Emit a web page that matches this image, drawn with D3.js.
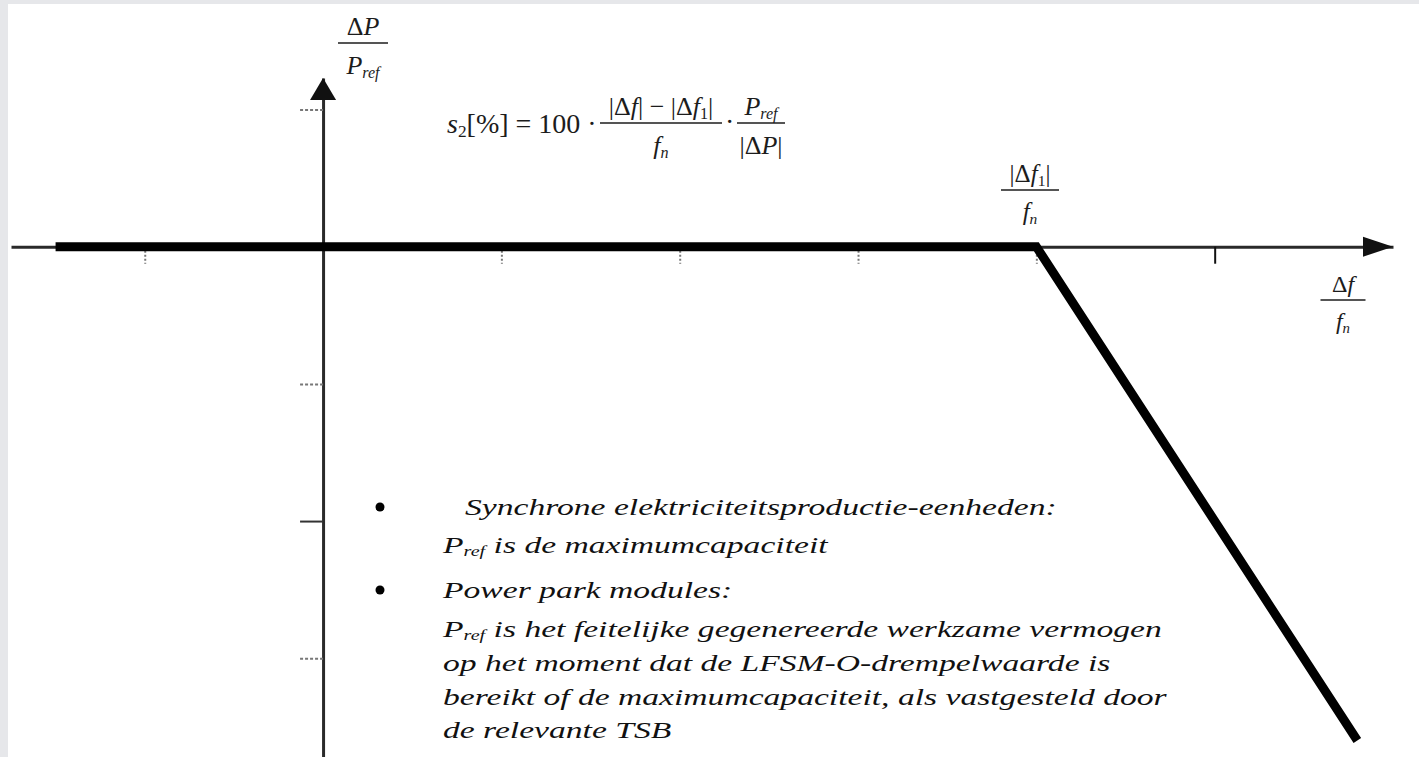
<!DOCTYPE html>
<html>
<head>
<meta charset="utf-8">
<script src="https://cdn.jsdelivr.net/npm/d3@7"></script>
<style>
  html, body { margin: 0; padding: 0; background: #e6e7ea; }
  svg { display: block; }
  .math { font-family: "Liberation Serif", "Times New Roman", serif; fill: #1c1c1c; }
  .note { font-family: "Liberation Serif", "Times New Roman", serif; font-style: italic; fill: #111; }
</style>
</head>
<body>
<svg id="chart" width="1419" height="757"></svg>
<script>
// Frequency deviation (in units of the threshold step) and active power change
const xTicks = [-1, 1, 2, 3, 4, 5];
const yTicks = [1, -1, -2, -3];
const solidXTicks = [5];
const solidYTicks = [-2];
const curveX = [-1.5, 4, 5.8];
const curveY = [0, 0, -3.6];
const xExtent = [-1.75, 6];
const yExtent = [1.23, -3.72];

// Explanatory notes beside the curve
const noteLines = [
  " Synchrone elektriciteitsproductie-eenheden:",
  "P_ref is de maximumcapaciteit",
  "Power park modules:",
  "P_ref is het feitelijke gegenereerde werkzame vermogen",
  "op het moment dat de LFSM-O-drempelwaarde is",
  "bereikt of de maximumcapaciteit, als vastgesteld door",
  "de relevante TSB"
];
const bulletLines = [0, 2];

const svg = d3.select("#chart");
const W = 1419, H = 757;

// page panel
svg.append("rect").attr("width", W).attr("height", H).attr("fill", "#e6e7ea");
svg.append("rect").attr("x", 8).attr("y", 4).attr("width", W - 8).attr("height", H - 4).attr("fill", "#fff");

const x = d3.scaleLinear().domain(xExtent).range([11, 1393]);
const y = d3.scaleLinear().domain(yExtent).range([78, 757]);

// x axis
const gx = svg.append("g").attr("transform", `translate(0,${y(0)})`)
  .call(d3.axisBottom(x).tickValues(xTicks).tickSize(17).tickSizeOuter(0).tickFormat(""));
gx.select(".domain").attr("stroke", "#2a2a2a").attr("stroke-width", 3);
gx.selectAll(".tick line")
  .attr("stroke", d => solidXTicks.includes(d) ? "#111" : "#777")
  .attr("stroke-width", 2)
  .attr("stroke-dasharray", d => solidXTicks.includes(d) ? null : "2,2");

// y axis
const gy = svg.append("g").attr("transform", `translate(${x(0)},0)`)
  .call(d3.axisLeft(y).tickValues(yTicks).tickSize(23).tickSizeOuter(0).tickFormat(""));
gy.select(".domain").attr("stroke", "#2a2a2a").attr("stroke-width", 3);
gy.selectAll(".tick line")
  .attr("stroke", d => solidYTicks.includes(d) ? "#333" : "#777")
  .attr("stroke-width", 2)
  .attr("stroke-dasharray", d => solidYTicks.includes(d) ? null : "3,2");

// arrow heads
const xTip = x(xExtent[1]), yTip = y(yExtent[0]);
svg.append("path")
  .attr("d", `M${xTip},${y(0)} L${xTip - 30},${y(0) - 10} L${xTip - 30},${y(0) + 10} Z`)
  .attr("fill", "#111");
svg.append("path")
  .attr("d", `M${x(0)},${yTip} L${x(0) - 13},${yTip + 22} L${x(0) + 13},${yTip + 22} Z`)
  .attr("fill", "#111");

// characteristic
const pts = curveX.map((v, i) => [v, curveY[i]]);
svg.append("path")
  .datum(pts)
  .attr("d", d3.line().x(d => x(d[0])).y(d => y(d[1])))
  .attr("fill", "none")
  .attr("stroke", "#000")
  .attr("stroke-width", 9)
  .attr("stroke-linejoin", "miter");

// --- math labels ---
function addRuns(text, runs) {
  runs.forEach(r => {
    const t = text.append("tspan").text(r.t);
    if (r.i) t.attr("font-style", "italic");
    if (r.sub) t.attr("font-size", "0.62em").attr("baseline-shift", "-25%");
  });
}
function fraction(cx, barY, barW, num, den, size) {
  const g = svg.append("g").attr("class", "math").attr("font-size", size);
  addRuns(g.append("text").attr("x", cx).attr("y", barY - 8).attr("text-anchor", "middle"), num);
  g.append("line").attr("x1", cx - barW / 2).attr("x2", cx + barW / 2)
    .attr("y1", barY).attr("y2", barY).attr("stroke", "#1c1c1c").attr("stroke-width", 1.6);
  addRuns(g.append("text").attr("x", cx).attr("y", barY + size * 1.2).attr("text-anchor", "middle"), den);
}
const P_ref = [{ t: "P", i: true }, { t: "ref", i: true, sub: true }];
const f_n = [{ t: "f", i: true }, { t: "n", i: true, sub: true }];

fraction(363, 43, 50, [{ t: "Δ" }, { t: "P", i: true }], P_ref, 26);
fraction(1030, 190, 58, [{ t: "|Δ" }, { t: "f", i: true }, { t: "1", sub: true }, { t: "|" }], f_n, 25);
fraction(1343, 300, 45, [{ t: "Δ" }, { t: "f", i: true }], f_n, 24);

// droop formula
const fm = svg.append("g").attr("class", "math").attr("font-size", 28);
addRuns(fm.append("text").attr("x", 447).attr("y", 133),
  [{ t: "s", i: true }, { t: "2", sub: true }, { t: "[%] = 100 ·" }]);
fraction(661, 123, 122,
  [{ t: "|Δ" }, { t: "f", i: true }, { t: "| − |Δ" }, { t: "f", i: true }, { t: "1", sub: true }, { t: "|" }],
  f_n, 26);
fm.append("text").attr("x", 725).attr("y", 131).text("·");
fraction(761, 123, 48, P_ref, [{ t: "|Δ" }, { t: "P", i: true }, { t: "|" }], 26);

// --- notes ---
const left = 443;
const baselines = [515, 553, 598, 637, 671, 705, 738];
const notes = svg.append("g").attr("class", "note").attr("font-size", 24);
const noteTexts = noteLines.map((line, i) => {
  const t = notes.append("text").attr("y", baselines[i]).attr("data-indent", line.startsWith(" ") ? 22 : 0);
  if (line.startsWith("P_ref")) {
    t.append("tspan").text("P");
    t.append("tspan").text("ref").attr("font-size", "0.6em").attr("baseline-shift", "-22%");
    t.append("tspan").text(line.slice(5));
  } else {
    t.text(line.trim());
  }
  return t;
});
// widen the glyphs uniformly so the widest line spans the text column
const widths = noteTexts.map(t => t.node().getComputedTextLength());
const factor = 724 / widths[5];
notes.attr("transform", `translate(${left},0) scale(${factor},1)`);
noteTexts.forEach(t => t.attr("x", +t.attr("data-indent") / factor));

bulletLines.forEach(i => {
  svg.append("circle").attr("cx", 380).attr("cy", baselines[i] - 8).attr("r", 4.5).attr("fill", "#000");
});
</script>
</body>
</html>
